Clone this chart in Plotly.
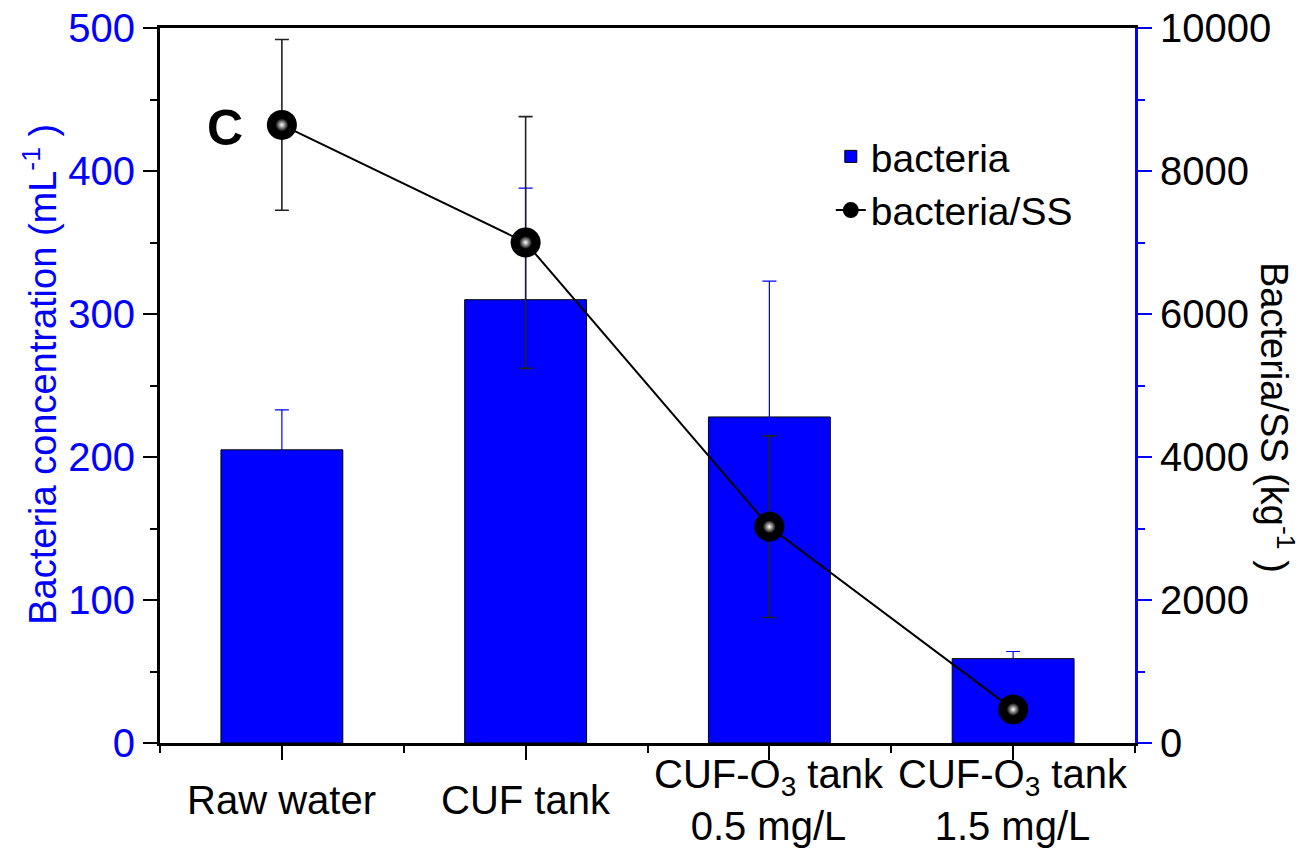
import plotly.graph_objects as go

# Sampling points along the treatment train
categories = ["Raw water", "CUF tank", "CUF-O<sub>3</sub> tank<br>0.5 mg/L", "CUF-O<sub>3</sub> tank<br>1.5 mg/L"]

# Bacteria concentration (mL^-1), left axis
bacteria = [205, 310, 228, 59]
bacteria_err = [28, 78, 95, 5]

# Bacteria per suspended solids (kg^-1), right axis
bacteria_ss = [8645, 7000, 3025, 470]
bacteria_ss_err = [1195, 1760, 1270, 60]

FONT = "Liberation Sans, Arial, sans-serif"
BLUE = "#0000ff"

x = list(range(len(categories)))

fig = go.Figure()

fig.add_trace(go.Bar(
    x=x, y=bacteria, name="bacteria", width=0.5,
    marker=dict(color=BLUE, line=dict(color="#000000", width=1)),
    error_y=dict(type="data", array=bacteria_err, color=BLUE, thickness=1.2, width=7),
    yaxis="y",
))

fig.add_trace(go.Scatter(
    x=x, y=bacteria_ss, name="bacteria/SS", mode="lines+markers",
    line=dict(color="#000000", width=2),
    marker=dict(symbol="circle", size=30, color="#000000", line=dict(width=0)),
    error_y=dict(type="data", array=bacteria_ss_err, color="#222222", thickness=1.6, width=7),
    yaxis="y2",
))

# glossy highlight on the spheres
fig.add_trace(go.Scatter(
    x=x, y=bacteria_ss, mode="markers", showlegend=False, hoverinfo="skip",
    marker=dict(symbol="circle", size=13, color="#000000", line=dict(width=0),
                gradient=dict(type="radial", color="#ffffff")),
    yaxis="y2",
))

annotations = []
for xi, label in zip(x, categories):
    annotations.append(dict(
        x=xi, xref="x", y=0, yref="paper", yshift=-57,
        xanchor="center", yanchor="middle", showarrow=False,
        text=label, align="center",
        font=dict(family=FONT, size=40, color="#000000"),
    ))

annotations += [
    dict(x=0.067, y=0.86, xref="paper", yref="paper", text="<b>C</b>", showarrow=False,
         xanchor="center", yanchor="middle", font=dict(family=FONT, size=50, color="#000000")),
    dict(x=0, y=0.515, xref="paper", yref="paper", xshift=-120, textangle=-90,
         text="Bacteria concentration (mL<sup>-1</sup> )", showarrow=False,
         xanchor="center", yanchor="middle", font=dict(family=FONT, size=38, color=BLUE)),
    dict(x=1, y=0.456, xref="paper", yref="paper", xshift=142, textangle=90,
         text="Bacteria/SS (kg<sup>-1</sup> )", showarrow=False,
         xanchor="center", yanchor="middle", font=dict(family=FONT, size=38, color="#000000")),
]

fig.update_layout(
    width=1307, height=852,
    margin=dict(l=160, r=172, t=28, b=109, autoexpand=False),
    paper_bgcolor="#ffffff", plot_bgcolor="#ffffff",
    font=dict(family=FONT, size=40, color="#000000"),
    showlegend=True,
    legend=dict(x=0.688, y=0.865, xanchor="left", yanchor="top",
                bgcolor="rgba(0,0,0,0)", font=dict(family=FONT, size=39),
                tracegroupgap=0),
    xaxis=dict(
        range=[-0.5, 3.5], tickvals=x, showticklabels=False, automargin=False,
        showline=True, linecolor="#000000", linewidth=3, mirror=True,
        ticks="outside", ticklen=14, tickwidth=2, tickcolor="#000000",
        minor=dict(tick0=-0.5, dtick=1, ticks="outside", ticklen=7, tickwidth=2, tickcolor="#000000"),
        showgrid=False, zeroline=False,
    ),
    yaxis=dict(
        range=[0, 500], dtick=100, automargin=False,
        showline=True, linecolor="#000000", linewidth=3,
        ticks="outside", ticklen=14, tickwidth=2, tickcolor="#000000",
        minor=dict(dtick=50, ticks="outside", ticklen=7, tickwidth=2, tickcolor="#000000"),
        tickfont=dict(family=FONT, size=40, color=BLUE),
        showgrid=False, zeroline=False,
    ),
    yaxis2=dict(
        range=[0, 10000], dtick=2000, tickformat="d", overlaying="y", side="right",
        automargin=False,
        showline=True, linecolor=BLUE, linewidth=3,
        ticks="outside", ticklen=14, tickwidth=2, tickcolor=BLUE,
        minor=dict(dtick=1000, ticks="outside", ticklen=7, tickwidth=2, tickcolor=BLUE),
        tickfont=dict(family=FONT, size=40, color="#000000"),
        showgrid=False, zeroline=False,
    ),
    annotations=annotations,
)

fig.write_html("out.html")
